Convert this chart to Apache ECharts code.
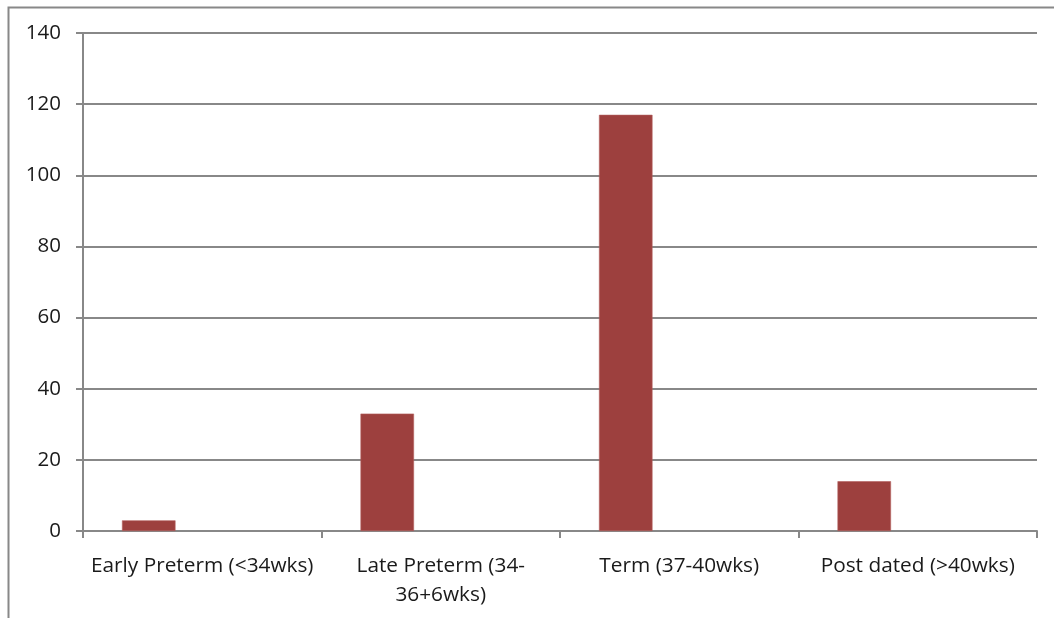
<!DOCTYPE html>
<html>
<head>
<meta charset="utf-8">
<script src="https://cdn.jsdelivr.net/npm/echarts@6/dist/echarts.min.js"></script>
<style>
  html, body { margin: 0; padding: 0; background: #fff; }
  #chart { width: 1054px; height: 618px; }
</style>
</head>
<body>
<div id="chart"></div>
<script>
// Gestational age groups and number of cases
const categories = [
  'Early Preterm (<34wks)',
  'Late Preterm (34-\n36+6wks)',
  'Term (37-40wks)',
  'Post dated (>40wks)'
];
const cases = [3, 33, 117, 14];
const series2 = [];
const series3 = [];
const yTicks = { min: 0, max: 140, interval: 20 };

const axisGray = '#888888';
const fontFamily = '"Open Sans", sans-serif';

const chart = echarts.init(document.getElementById('chart'));
chart.setOption({
  animation: false,
  backgroundColor: '#ffffff',
  graphic: [{
    type: 'rect',
    left: 6, top: 5,
    shape: { width: 1060, height: 630 },
    style: { fill: 'none', stroke: axisGray, lineWidth: 2 },
    silent: true
  }],
  grid: { left: 83, right: 17, top: 33, bottom: 87, containLabel: false },
  xAxis: {
    type: 'category',
    data: categories,
    axisLine: { lineStyle: { color: axisGray, width: 2 } },
    axisTick: { show: true, alignWithLabel: false, length: 7, lineStyle: { color: axisGray, width: 2 } },
    axisLabel: {
      color: '#1a1a1a', fontSize: 20.8, fontFamily: fontFamily, margin: 21,
      lineHeight: 29, interval: 0
    }
  },
  yAxis: {
    type: 'value',
    min: yTicks.min, max: yTicks.max, interval: yTicks.interval,
    axisLine: { show: true, lineStyle: { color: axisGray, width: 2 } },
    axisTick: { show: true, length: 7, lineStyle: { color: axisGray, width: 2 } },
    splitLine: { show: true, lineStyle: { color: axisGray, width: 2 } },
    axisLabel: { color: '#1a1a1a', fontSize: 20.5, fontFamily: fontFamily, margin: 22 }
  },
  series: [
    {
      name: 'Cases', type: 'bar', data: cases,
      barGap: '0%', barCategoryGap: '32.7%',
      itemStyle: { color: '#9d403e', borderColor: '#b4605e', borderWidth: 0.6 }
    },
    { name: 'Series 2', type: 'bar', data: series2, barGap: '0%', barCategoryGap: '32.7%' },
    { name: 'Series 3', type: 'bar', data: series3, barGap: '0%', barCategoryGap: '32.7%' }
  ]
});
</script>
</body>
</html>
